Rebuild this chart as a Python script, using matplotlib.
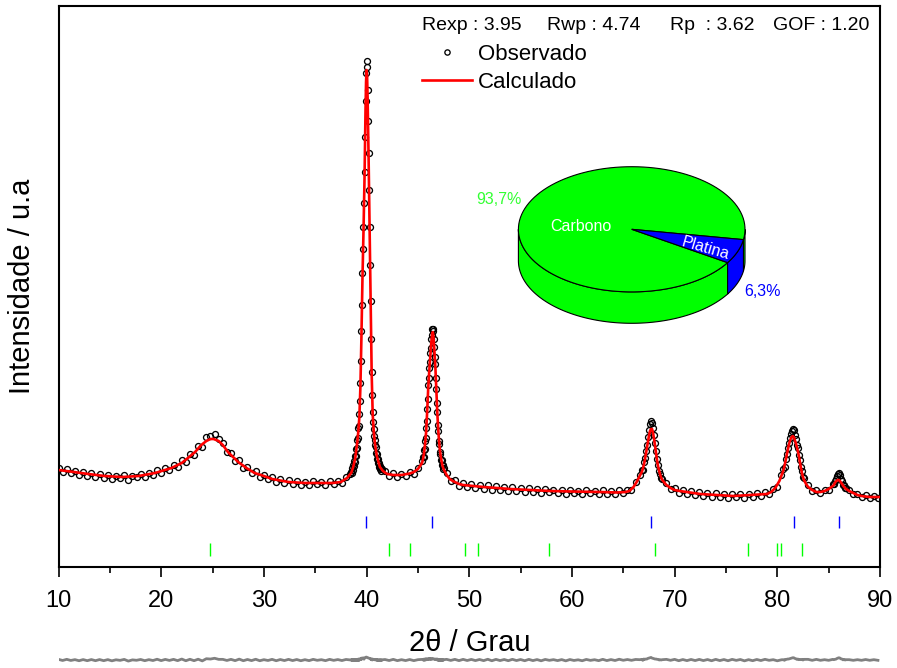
import numpy as np
import matplotlib.pyplot as plt
from matplotlib.patches import Polygon
from matplotlib.ticker import MultipleLocator

plt.rcParams['font.family'] = ['Liberation Sans', 'DejaVu Sans']

# ---- dados ----
# grade de medida (inicio, fim, n pontos) por trecho
scan_segments = [(10.0, 38.4, 72), (38.5, 41.5, 61), (41.8, 45.4, 10), (45.5, 47.5, 41),
                 (47.8, 66.6, 48), (66.8, 68.8, 21), (69.2, 80.4, 29), (80.6, 82.6, 21),
                 (83.0, 85.4, 7), (85.5, 86.7, 13), (87.0, 89.8, 8)]

obs_a = [99, 95, 98, 94, 96, 92, 95, 91, 94, 90, 93, 89, 92, 88, 91, 89, 92, 87, 91, 90,
         93, 90, 94, 92, 97, 94, 99, 97, 102, 100, 107, 105, 113, 112, 121, 120, 130, 131, 133, 128,
         124, 115, 114, 106, 107, 99, 100, 94, 96, 90, 92, 88, 90, 85, 88, 84, 87, 83, 86, 82,
         85, 82, 86, 83, 85, 82, 86, 83, 86, 84, 90, 93]
obs_b = [95, 94, 99, 97, 102, 101, 106, 105, 111, 111, 118, 119, 127, 129, 139, 141, 153, 166, 184, 206,
         236, 262, 294, 318, 340, 364, 395, 430, 466, 494, 506, 500, 477, 446, 414, 377, 340, 302, 266, 228,
         195, 172, 155, 145, 138, 131, 127, 122, 120, 114, 113, 108, 108, 104, 104, 100, 101, 98, 99, 96,
         98]
obs_c = [96, 91, 94, 90, 93, 91, 95, 93, 99, 106]
obs_d = [110, 110, 117, 118, 126, 129, 139, 146, 158, 168, 182, 189, 199, 205, 214, 219, 228, 232, 238, 238,
         236, 228, 220, 210, 203, 189, 178, 164, 155, 142, 136, 126, 123, 115, 113, 107, 107, 102, 102, 98,
         99]
obs_e = [94, 86, 87, 81, 84, 80, 83, 79, 82, 78, 82, 77, 81, 77, 80, 76, 80, 76, 79, 75,
         79, 75, 78, 74, 78, 75, 77, 74, 77, 73, 77, 74, 76, 73, 77, 74, 76, 73, 77, 73,
         76, 73, 77, 74, 77, 77, 85, 92]
obs_f = [97, 97, 105, 109, 116, 122, 130, 137, 143, 146, 144, 139, 132, 124, 116, 108, 102, 96, 93, 89, 88]
obs_g = [84, 78, 79, 74, 77, 73, 76, 72, 75, 71, 74, 70, 74, 70, 73, 69, 73, 70, 73, 69,
         73, 70, 74, 71, 75, 73, 78, 80, 92]
obs_h = [98, 100, 108, 113, 119, 124, 129, 133, 136, 138, 137, 132, 128, 122, 119, 112, 107, 100, 96, 90, 89]
obs_i = [82, 76, 77, 74, 77, 77, 83]
obs_j = [83, 86, 88, 91, 93, 94, 92, 88, 86, 82, 82, 79, 79]
obs_k = [77, 73, 73, 70, 72, 69, 71, 69]

tt_calc = [10.0, 11.5, 12.9, 14.5, 16.2, 17.8, 19.4, 21.0, 22.0, 22.6,
           23.3, 23.9, 24.4, 24.8, 25.1, 25.6, 26.0, 26.5, 27.0, 27.5,
           28.3, 29.1, 30.0, 30.8, 32.4, 34.0, 36.7, 37.5, 38.1, 38.5,
           38.7, 38.9, 39.1, 39.2, 39.3, 39.4, 39.5, 39.6, 39.7, 39.8,
           39.9, 39.95, 40.0, 40.05, 40.1, 40.2, 40.3, 40.4, 40.5, 40.6,
           40.7, 40.8, 41.0, 41.3, 41.6, 42.0, 42.6, 43.4, 44.2, 44.6,
           45.0, 45.4, 45.5, 45.6, 45.7, 45.8, 45.9, 46.0, 46.1, 46.2,
           46.3, 46.4, 46.45, 46.5, 46.6, 46.7, 46.8, 46.9, 47.0, 47.1,
           47.2, 47.3, 47.4, 47.5, 47.8, 48.1, 48.4, 49.0, 49.4, 51.4,
           54.0, 57.9, 60.0, 62.7, 64.4, 65.2, 65.6, 66.0, 66.3, 66.6,
           66.8, 66.9, 67.0, 67.1, 67.2, 67.3, 67.4, 67.5, 67.6, 67.7,
           67.8, 67.9, 68.0, 68.1, 68.2, 68.3, 68.4, 68.5, 68.6, 68.7,
           68.8, 69.2, 69.6, 70.0, 70.5, 72.5, 75.7, 79.0, 79.4, 79.8,
           80.2, 80.5, 80.6, 80.7, 80.8, 80.9, 81.0, 81.1, 81.2, 81.3,
           81.4, 81.5, 81.6, 81.7, 81.8, 81.9, 82.0, 82.1, 82.2, 82.3,
           82.4, 82.5, 82.6, 82.8, 83.0, 83.4, 83.8, 84.2, 84.6, 85.0,
           85.4, 85.5, 85.6, 85.7, 85.8, 85.9, 86.0, 86.1, 86.2, 86.3,
           86.4, 86.5, 86.6, 86.7, 87.0, 87.4, 87.8, 88.2, 88.6, 89.0,
           90.0]
i_calc = [97, 95, 93, 91, 90, 91, 94, 99, 104, 109,
          115, 122, 126, 128, 128, 126, 122, 115, 110, 105,
          99, 94, 91, 88, 85, 84, 84, 85, 89, 94,
          100, 109, 125, 136, 150, 180, 230, 288, 335, 388,
          458, 485, 497, 492, 470, 408, 335, 262, 192, 152,
          136, 125, 111, 100, 96, 93, 92, 92, 93.5, 95,
          98, 104, 108, 114, 123, 135, 155, 178, 195, 210,
          224, 234, 235, 232, 217, 200, 175, 152, 134, 121,
          112, 106, 101, 98, 92, 88, 86, 83, 82, 80,
          78, 76, 75.5, 75, 74.5, 75, 76, 80, 85, 91,
          95, 98, 102, 107, 113, 119, 125, 131, 136, 138,
          138, 134, 128, 121, 113, 106, 100, 96, 92, 89,
          87, 82, 79, 77, 76, 73, 71, 73, 75, 79,
          86, 94, 97, 101, 106, 111, 116, 121, 125, 128,
          130, 131, 130, 127, 124, 120, 116, 111, 105, 99,
          94, 90, 87, 83, 80, 77, 75, 75, 76, 78,
          81, 82, 84, 85.5, 86.5, 87, 87, 86, 84.5, 83,
          81.5, 80, 79, 78, 76, 74, 72, 71, 70.5, 70,
          70]

# posicoes de Bragg
pt_pos = [39.9, 46.4, 67.7, 81.6, 86.0]
c_pos = [24.8, 42.2, 44.2, 49.6, 50.9, 57.8, 68.1, 77.1, 80.0, 80.4, 82.4]

# fases (%)
fase_nomes = ['Carbono', 'Platina']
fase_pct = [93.7, 6.3]
fase_cores = ['#00ff00', '#0000ff']

tt_obs = np.concatenate([np.linspace(a, b, n) for a, b, n in scan_segments])
i_obs = np.array(obs_a + obs_b + obs_c + obs_d + obs_e + obs_f + obs_g + obs_h + obs_i + obs_j + obs_k, float)
diff = i_obs - np.interp(tt_obs, tt_calc, i_calc)

W, H = 897, 668
fig = plt.figure(figsize=(W / 100, H / 100), dpi=100)
ax = fig.add_axes([58.5 / W, 1 - 567 / H, (880 - 58.5) / W, (567 - 6) / H])

ax.plot(tt_obs, i_obs, 'o', mfc='none', mec='black', ms=4.3, mew=0.95, label='Observado', zorder=2)
ax.plot(tt_calc, i_calc, color='red', lw=1.9, label='Calculado', zorder=3)
ax.vlines(pt_pos, 39, 51, color='blue', lw=1)
ax.vlines(c_pos, 11, 24, color='#00ff00', lw=1)

ax.set_xlim(10, 90)
ax.set_ylim(0, 561)
ax.set_yticks([])
ax.xaxis.set_major_locator(MultipleLocator(10))
ax.xaxis.set_minor_locator(MultipleLocator(5))
ax.tick_params(axis='x', which='major', direction='out', length=7, width=1.2, labelsize=17, pad=9.5)
ax.tick_params(axis='x', which='minor', direction='out', length=4, width=1.2)
for s in ax.spines.values():
    s.set_linewidth(1.5)
ax.set_xlabel('2θ / Grau', fontsize=21, labelpad=12)
ax.set_ylabel('Intensidade / u.a', fontsize=21, labelpad=16)

leg = ax.legend(loc='upper left', bbox_to_anchor=(421.7 / W, 1 - 44 / H), bbox_transform=fig.transFigure,
                frameon=False, fontsize=16, handlelength=2.25, handletextpad=0.3, labelspacing=0.32,
                borderpad=0, borderaxespad=0, numpoints=1)
leg.legend_handles[0].set_markersize(3.8)

for x, txt in [(421.7, 'Rexp : 3.95'), (546.7, 'Rwp : 4.74'), (670, 'Rp  : 3.62'), (773.3, 'GOF : 1.20')]:
    fig.text(x / W, 1 - 25.5 / H, txt, fontsize=14, va='center', ha='left')

# curva diferenca (embaixo)
axd = fig.add_axes([58.5 / W, 0, (880 - 58.5) / W, 16 / H])
axd.plot(tt_obs, diff, color='#808080', lw=2)
axd.set_xlim(10, 90)
axd.set_ylim(-25, 25)
axd.axis('off')

# pizza 3D
axp = fig.add_axes([0, 0, 1, 1])
axp.set_xlim(0, W)
axp.set_ylim(H, 0)
axp.axis('off')
axp.patch.set_alpha(0)

cx, cy, ra, rb, dz = 631.7, 229.3, 113.3, 62.6, 31.4


def arco(t0, t1, dy=0):
    t = np.radians(np.linspace(t0, t1, 120))
    return np.column_stack([cx + ra * np.cos(t), cy - rb * np.sin(t) + dy])


inicio = -9.5
fr = np.array(fase_pct) / sum(fase_pct)
fatias = [(inicio, inicio + 360 * fr[0]), (inicio - 360 * fr[1], inicio)]

for (t0, t1), cor in zip(fatias, fase_cores):
    for k in (-1, 0, 1):
        lo, hi = max(t0, -180 + 360 * k), min(t1, 360 * k)
        if hi > lo:
            pts = np.vstack([arco(lo, hi), arco(hi, lo, dz)])
            axp.add_patch(Polygon(pts, closed=True, fc=cor, ec='black', lw=0.8, zorder=1))

for (t0, t1), cor in zip(fatias, fase_cores):
    pts = np.vstack([[cx, cy], arco(t0, t1)])
    axp.add_patch(Polygon(pts, closed=True, fc=cor, ec='black', lw=0.8, zorder=2))

axp.text(499.3, 200, '93,7%', color='#33ff33', fontsize=11.5, ha='center', va='center')
axp.text(580.7, 226.7, fase_nomes[0], color='white', fontsize=11.5, ha='center', va='center', zorder=3)
axp.text(705.7, 248.3, fase_nomes[1], color='white', fontsize=11.5, ha='center', va='center',
         rotation=-16, zorder=3)
axp.text(762.3, 291.7, '6,3%', color='#0000ff', fontsize=11.5, ha='center', va='center')

fig.savefig('out.png', dpi=100)
